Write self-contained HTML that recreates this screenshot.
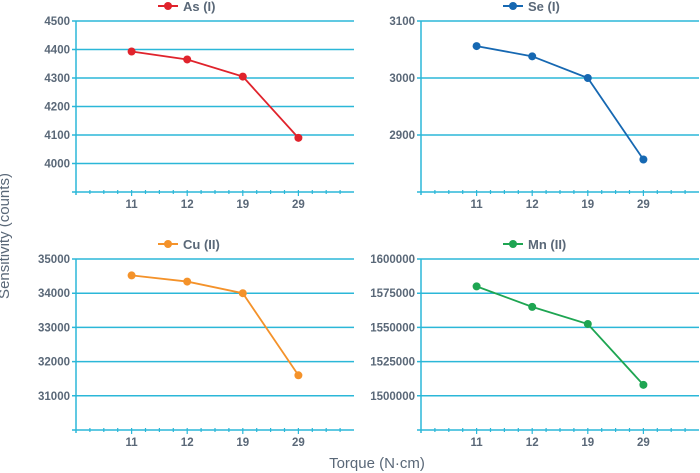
<!DOCTYPE html>
<html><head><meta charset="utf-8"><style>
html,body{margin:0;padding:0;background:#fff;}
svg{display:block;font-family:"Liberation Sans",sans-serif;}
</style></head><body>
<svg id="c" width="700" height="473" xmlns="http://www.w3.org/2000/svg">
<text x="9" y="236" transform="rotate(-90 9 236)" text-anchor="middle" font-size="15" fill="#5a6878">Sensitivity (counts)</text>
<text x="377" y="468" text-anchor="middle" font-size="15" fill="#5a6878">Torque (N·cm)</text>
</svg>
<script>
const categories = ["11","12","19","29"];
const asValues = [4393, 4365, 4305, 4090];
const seValues = [3056, 3038, 3000, 2857];
const cuValues = [34520, 34340, 34000, 31600];
const mnValues = [1580000, 1565000, 1552500, 1508000];
const asTicks = [4000, 4100, 4200, 4300, 4400, 4500];
const seTicks = [2900, 3000, 3100];
const cuTicks = [31000, 32000, 33000, 34000, 35000];
const mnTicks = [1500000, 1525000, 1550000, 1575000, 1600000];

const svg = document.getElementById('c');
const NS = 'http://www.w3.org/2000/svg';
function mk(tag, attrs, parent){const e=document.createElementNS(NS,tag);for(const k in attrs)e.setAttribute(k,attrs[k]);(parent||svg).appendChild(e);return e;}

function panel(key, title, color, vals, ticks, yMin, yMax, left, top){
  const W=278, H=171, bottom=top+H, right=left+W;
  const g=mk('g',{});
  
  
  const y=v=>bottom-(v-yMin)/(yMax-yMin)*H;
  const x=i=>left+(i+1)*W/5;
  ticks.forEach(t=>{
    const l=mk('line',{x1:left-4,x2:right,y1:y(t),y2:y(t),stroke:'#2bb7d8','stroke-width':1.5},g);
    
    
    const tx=mk('text',{x:left-6,y:y(t)+4,'text-anchor':'end','font-size':11.5,'font-weight':'bold',fill:'#5a6878'},g);
    tx.textContent=t;
    
    
  });
  mk('line',{x1:left,x2:left,y1:top,y2:bottom+3,stroke:'#2bb7d8','stroke-width':1.5},g);
  mk('line',{x1:left-4,x2:right,y1:bottom,y2:bottom,stroke:'#2bb7d8','stroke-width':1.5},g);
  for(let k=1;k<20;k++){
    const xx=left+k*W/20;
    mk('line',{x1:xx,x2:xx,y1:bottom-2,y2:bottom+(k%4===0?4:2),stroke:'#2bb7d8','stroke-width':1.2},g);
  }
  categories.forEach((c,i)=>{
    const tx=mk('text',{x:x(i),y:bottom+16,'text-anchor':'middle','font-size':11.5,'font-weight':'bold',fill:'#5a6878'},g);
    tx.textContent=c;
    
    
  });
  const pts=vals.map((v,i)=>x(i)+','+y(v)).join(' ');
  const pl=mk('polyline',{points:pts,fill:'none',stroke:color,'stroke-width':1.8},g);
  
  
  vals.forEach((v,i)=>{
    const c=mk('circle',{cx:x(i),cy:y(v),r:4,fill:color},g);
    
    
  });
  const cx=left+W/2;
  const lg=mk('g',{},g);
  
  
  mk('line',{x1:cx-57,x2:cx-37,y1:top-15,y2:top-15,stroke:color,'stroke-width':2},lg);
  mk('circle',{cx:cx-47,cy:top-15,r:4,fill:color},lg);
  const lt=mk('text',{x:cx-32,y:top-10,'font-size':13,'font-weight':'bold',fill:'#5a6878'},lg);
  lt.textContent=title;
}
panel('as','As (I)','#e0232c',asValues,asTicks,3900,4500,76,21);
panel('se','Se (I)','#1668b2',seValues,seTicks,2800,3100,421,21);
panel('cu','Cu (II)','#f4922a',cuValues,cuTicks,30000,35000,76,259);
panel('mn','Mn (II)','#1ea552',mnValues,mnTicks,1475000,1600000,421,259);
</script>
</body></html>
